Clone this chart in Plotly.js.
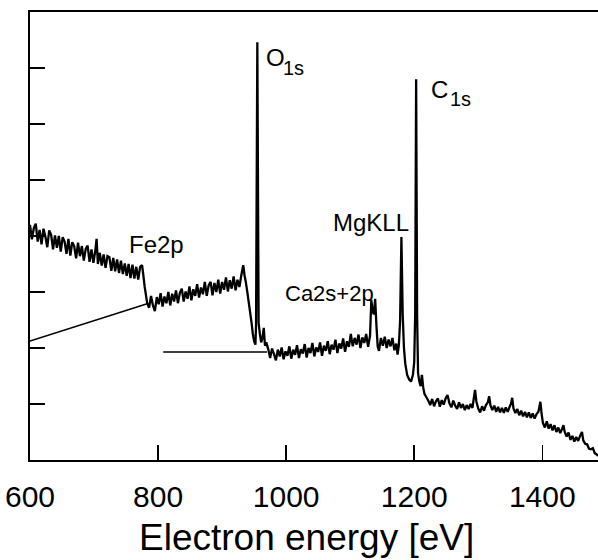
<!DOCTYPE html>
<html>
<head>
<meta charset="utf-8">
<script src="https://cdn.plot.ly/plotly-3.0.1.min.js"></script>
<style>html,body{margin:0;padding:0;background:#fff;}#chart{width:598px;height:560px;}</style>
</head>
<body>
<div id="chart"></div>
<script>
// Spectrum: electron energy (eV) and intensity (arbitrary units)
const energy = [
600,603,606,609,612,615,618,621,624,627,630,633,636,639,642,645,648,651,654,657,
660,663,666,669,672,675,678,681,684,687,690,693,696,699,702,704,706,709,712,715,
718,721,724,727,730,733,736,739,742,745,748,751,754,757,760,763,766,769,772,775,
777,779,781,783,786,789,792,795,798,801,804,807,810,813,816,819,822,825,828,831,
834,837,840,843,846,849,852,855,858,861,864,867,870,873,876,879,882,885,888,891,
894,897,900,903,906,909,912,915,918,921,924,927,930,933,935,937,940,943,946,948,
950,952,953,955,957,959,961,963,965,967,969,972,975,978,981,984,987,990,993,996,
999,1002,1005,1008,1011,1014,1017,1020,1023,1026,1029,1032,1035,1038,1041,1044,1047,1050,1053,1056,
1059,1062,1065,1068,1071,1074,1077,1080,1083,1086,1089,1092,1095,1098,1101,1104,1107,1110,1113,1116,
1119,1122,1125,1128,1131,1133,1135,1137,1139,1141,1143,1145,1148,1151,1154,1157,1160,1163,1166,1169,
1172,1174,1176,1178,1180,1182,1184,1186,1189,1192,1195,1198,1200,1201.5,1203,1204.5,1206,1208,1210,1212,
1214,1216,1219,1222,1225,1228,1231,1234,1237,1240,1243,1246,1249,1252,1255,1258,1261,1264,1267,1270,
1273,1276,1279,1282,1285,1288,1291,1293,1295,1297,1300,1303,1306,1309,1312,1315,1317,1319,1322,1325,
1328,1331,1334,1337,1340,1343,1346,1349,1351,1353,1355,1358,1361,1364,1367,1370,1373,1376,1379,1382,
1385,1388,1391,1394,1397,1399,1401,1404,1407,1410,1413,1416,1419,1422,1425,1428,1431,1433,1435,1438,
1441,1444,1447,1450,1453,1456,1459,1462,1464,1467,1470,1473,1476,1479,1482,1485,1487
];
const intensity = [
4.20,3.94,4.14,4.22,3.90,4.11,3.85,4.13,3.99,3.80,4.10,4.02,3.76,4.01,3.79,4.00,3.72,3.98,3.90,3.68,
3.95,3.65,3.89,3.82,3.60,3.88,3.64,3.82,3.56,3.77,3.83,3.54,3.76,3.52,3.74,3.95,3.50,3.70,3.47,3.67,
3.43,3.64,3.62,3.38,3.61,3.37,3.58,3.34,3.56,3.32,3.51,3.29,3.50,3.25,3.49,3.24,3.45,3.22,3.45,3.48,
3.30,3.10,2.95,2.80,2.72,2.93,2.76,2.66,2.91,2.78,2.98,2.74,2.92,2.80,3.00,2.76,2.97,2.83,3.03,2.80,
2.98,3.06,2.83,3.01,2.88,3.10,2.85,3.05,2.93,3.14,2.90,3.08,2.96,3.18,2.93,3.12,3.18,2.94,3.16,3.00,
3.22,2.97,3.18,3.04,3.26,3.01,3.21,3.06,3.28,3.03,3.22,3.09,3.30,3.48,3.30,3.18,2.95,2.70,2.45,2.25,
2.12,2.06,2.40,7.46,2.45,2.25,2.10,2.18,2.36,2.04,2.10,1.98,1.82,1.99,1.89,1.78,1.97,1.85,2.01,1.80,
1.94,1.86,2.03,1.81,1.97,1.88,2.05,1.82,1.98,1.90,2.07,1.83,2.00,1.91,2.09,1.85,2.01,1.93,2.10,1.86,
2.04,1.95,2.12,1.89,2.06,1.97,2.15,1.91,2.08,1.99,2.17,1.93,2.12,2.02,2.25,2.03,2.18,2.06,2.24,2.00,
2.19,2.09,2.25,2.02,2.22,2.86,2.66,2.60,2.88,2.40,2.02,1.95,2.18,2.04,2.20,2.00,2.15,2.03,2.18,1.96,
2.08,1.88,2.05,2.50,3.98,2.60,2.00,1.72,1.52,1.44,1.40,1.52,1.75,2.60,6.80,2.60,1.55,1.40,1.32,1.52,
1.30,1.18,1.12,1.06,0.98,1.09,0.96,1.05,1.10,0.95,1.07,0.99,1.10,1.16,1.01,0.94,1.06,0.97,0.91,1.03,
0.93,1.00,0.89,0.98,0.91,1.00,0.93,1.10,1.25,1.05,0.92,0.85,0.96,0.88,0.98,1.03,1.14,0.98,0.89,0.97,
0.86,0.95,0.85,0.93,0.84,0.94,0.86,0.95,1.00,1.11,0.92,0.84,0.91,0.80,0.88,0.78,0.86,0.76,0.85,0.75,
0.83,0.74,0.82,0.86,1.04,0.82,0.66,0.58,0.69,0.56,0.64,0.53,0.62,0.50,0.58,0.48,0.56,0.62,0.50,0.42,
0.49,0.36,0.43,0.33,0.41,0.34,0.43,0.50,0.35,0.29,0.28,0.20,0.19,0.21,0.12,0.10,0.07
];
// Background lines drawn under the Fe2p and O1s regions
const bgFeX = [600, 783];
const bgFeY = [2.125, 2.79];
const bgOX = [808, 970];
const bgOY = [1.93, 1.93];

const xTicks = [600, 800, 1000, 1200, 1400];
const xTickLabels = ['600', '800', '1000', '1200', '1400'];
const yTicks = [1, 2, 3, 4, 5, 6, 7];
const xTitle = 'Electron energy [eV]';

const FONT = 'Liberation Sans, Arial, Helvetica, sans-serif';

const traces = [
  {x: energy, y: intensity, mode: 'lines', line: {color: '#000', width: 2.3, simplify: false}, hoverinfo: 'skip'},
  {x: bgFeX, y: bgFeY, mode: 'lines', line: {color: '#000', width: 1.5}, hoverinfo: 'skip'},
  {x: bgOX, y: bgOY, mode: 'lines', line: {color: '#000', width: 1.5}, hoverinfo: 'skip'}
];

function ann(text, x, y, size, xanchor) {
  return {text: text, x: x, y: y, xref: 'x', yref: 'y', showarrow: false,
    xanchor: xanchor, yanchor: 'top', font: {family: FONT, size: size, color: '#000'}};
}

const layout = {
  width: 598, height: 560,
  margin: {l: 30, r: 0, t: 12, b: 100},
  paper_bgcolor: '#fff', plot_bgcolor: '#fff',
  showlegend: false,
  font: {family: FONT, color: '#000'},
  xaxis: {
    range: [600, 1487], tickvals: xTicks, ticktext: xTickLabels,
    ticks: 'inside', ticklen: 15, tickwidth: 1.5, tickcolor: '#000',
    showline: true, linecolor: '#000', linewidth: 2, mirror: true,
    showgrid: false, zeroline: false,
    tickfont: {family: FONT, size: 30, color: '#000'},
    ticklabelstandoff: 9
  },
  yaxis: {
    range: [0, 8], tickvals: yTicks, showticklabels: false,
    ticks: 'inside', ticklen: 15, tickwidth: 1.5, tickcolor: '#000',
    showline: true, linecolor: '#000', linewidth: 2, mirror: false,
    showgrid: false, zeroline: false
  },
  annotations: [
    ann('O', 966, 7.47, 24, 'left'),
    ann('1s', 992, 7.23, 20, 'left'),
    ann('C', 1223, 6.90, 24, 'left'),
    ann('1s', 1253, 6.68, 20, 'left'),
    ann('Fe2p', 797, 4.12, 24, 'center'),
    ann('MgKLL', 1132, 4.51, 24, 'center'),
    ann('Ca2s+2p', 1067, 3.23, 22, 'center'),
    {text: xTitle, xref: 'paper', yref: 'paper', x: 0.486, y: -0.172,
     xanchor: 'center', yanchor: 'middle', showarrow: false,
     font: {family: FONT, size: 37, color: '#000'}}
  ]
};

Plotly.newPlot('chart', traces, layout, {displayModeBar: false, staticPlot: true});
</script>
</body>
</html>
